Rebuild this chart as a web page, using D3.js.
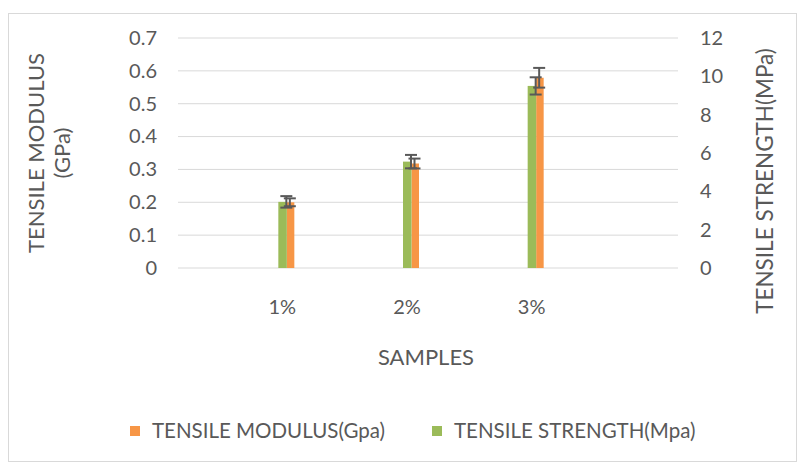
<!DOCTYPE html>
<html>
<head>
<meta charset="utf-8">
<script src="https://cdn.jsdelivr.net/npm/d3@7"></script>
<style>
  body { margin: 0; background: #ffffff; }
  text { font-family: Lato, "Open Sans", sans-serif; fill: #595959; }
</style>
</head>
<body>
<div id="chart"></div>
<script>
// samples on the x axis
const samples = ["1%", "2%", "3%"];

// tensile modulus (GPa), left axis, orange
const modulus = [0.200, 0.318, 0.579];
const modulusErr = [0.012, 0.015, 0.030];

// tensile strength (MPa), right axis, green
const strength = [3.45, 5.55, 9.5];
const strengthErr = [0.3, 0.35, 0.45];

const leftTicks = [0, 0.1, 0.2, 0.3, 0.4, 0.5, 0.6, 0.7];
const rightTicks = [0, 2, 4, 6, 8, 10, 12];

const orange = "#F79646", green = "#9BBB59", errColor = "#595959";

const width = 799, height = 464;

const svg = d3.select("#chart").append("svg")
    .attr("width", width)
    .attr("height", height);

// chart frame
svg.append("rect")
    .attr("x", 8.5).attr("y", 13.5)
    .attr("width", 788).attr("height", 448)
    .attr("fill", "none")
    .attr("stroke", "#d9d9d9");

const plot = {left: 178, right: 678, top: 38, bottom: 268};

const x = d3.scaleBand()
    .domain(samples)
    .range([220, 594]);

const yL = d3.scaleLinear().domain([0, 0.7]).range([plot.bottom, plot.top]);
const yR = d3.scaleLinear().domain([0, 12]).range([plot.bottom, plot.top]);

// gridlines
svg.append("g")
    .selectAll("line")
    .data(leftTicks)
    .enter().append("line")
    .attr("x1", plot.left).attr("x2", plot.right)
    .attr("y1", d => yL(d)).attr("y2", d => yL(d))
    .attr("stroke", "#d9d9d9")
    .attr("stroke-width", 1);

// left axis
const gl = svg.append("g")
    .attr("transform", `translate(${plot.left},0)`)
    .call(d3.axisLeft(yL).tickValues(leftTicks)
        .tickFormat(d => d === 0 ? "0" : d.toFixed(1))
        .tickSize(0).tickPadding(21));
gl.select(".domain").remove();
gl.selectAll("text").attr("font-size", "20px").attr("font-family", null).attr("fill", null);

// right axis
const gr = svg.append("g")
    .attr("transform", `translate(${plot.right},0)`)
    .call(d3.axisRight(yR).tickValues(rightTicks).tickSize(0).tickPadding(22));
gr.select(".domain").remove();
gr.selectAll("text").attr("font-size", "20px").attr("font-family", null).attr("fill", null);

// category labels
svg.append("g")
    .selectAll("text")
    .data(samples)
    .enter().append("text")
    .attr("x", d => x(d) + x.bandwidth() / 2)
    .attr("y", 307)
    .attr("dy", "0.35em")
    .attr("text-anchor", "middle")
    .attr("font-size", "20px")
    .text(d => d);

const cx = d => x(d) + x.bandwidth() / 2;

// orange bars (behind)
svg.append("g")
    .selectAll("rect")
    .data(samples)
    .enter().append("rect")
    .attr("x", d => cx(d) + 4.5)
    .attr("width", 7.5)
    .attr("y", (d, i) => yL(modulus[i]))
    .attr("height", (d, i) => plot.bottom - yL(modulus[i]))
    .attr("fill", orange);

// green bars
svg.append("g")
    .selectAll("rect")
    .data(samples)
    .enter().append("rect")
    .attr("x", d => cx(d) - 4)
    .attr("width", 8.5)
    .attr("y", (d, i) => yR(strength[i]))
    .attr("height", (d, i) => plot.bottom - yR(strength[i]))
    .attr("fill", green);

// error bars
function errorBars(vals, errs, scale, off) {
    const g = svg.append("g")
        .attr("stroke", errColor)
        .attr("stroke-width", 2)
        .selectAll("g")
        .data(samples)
        .enter().append("g");
    g.append("line")
        .attr("x1", d => cx(d) + off).attr("x2", d => cx(d) + off)
        .attr("y1", (d, i) => scale(vals[i] + errs[i]))
        .attr("y2", (d, i) => scale(vals[i] - errs[i]));
    [1, -1].forEach(s => {
        g.append("line")
            .attr("x1", d => cx(d) + off - 6).attr("x2", d => cx(d) + off + 6)
            .attr("y1", (d, i) => scale(vals[i] + s * errs[i]))
            .attr("y2", (d, i) => scale(vals[i] + s * errs[i]));
    });
}
errorBars(strength, strengthErr, yR, 4);
errorBars(modulus, modulusErr, yL, 7.5);

// axis titles
svg.append("text")
    .attr("transform", "translate(36,153) rotate(-90)")
    .attr("text-anchor", "middle")
    .attr("dy", "0.35em")
    .attr("font-size", "22px")
    .text("TENSILE MODULUS");
svg.append("text")
    .attr("transform", "translate(62,153) rotate(-90)")
    .attr("text-anchor", "middle")
    .attr("dy", "0.35em")
    .attr("font-size", "22px")
    .text("(GPa)");
svg.append("text")
    .attr("transform", "translate(765,181) rotate(-90)")
    .attr("text-anchor", "middle")
    .attr("dy", "0.35em")
    .attr("font-size", "22.5px")
    .text("TENSILE STRENGTH(MPa)");

svg.append("text")
    .attr("x", 426).attr("y", 357)
    .attr("dy", "0.35em")
    .attr("text-anchor", "middle")
    .attr("font-size", "22px")
    .text("SAMPLES");

// legend
const legend = [
    {label: "TENSILE MODULUS(Gpa)", color: orange, x: 130},
    {label: "TENSILE STRENGTH(Mpa)", color: green, x: 432}
];
const lg = svg.append("g")
    .selectAll("g")
    .data(legend)
    .enter().append("g")
    .attr("transform", d => `translate(${d.x},431)`);
lg.append("rect")
    .attr("x", 0).attr("y", -5)
    .attr("width", 10).attr("height", 10)
    .attr("fill", d => d.color);
lg.append("text")
    .attr("x", 22)
    .attr("dy", "0.35em")
    .attr("font-size", "20.5px")
    .text(d => d.label);
</script>
</body>
</html>
